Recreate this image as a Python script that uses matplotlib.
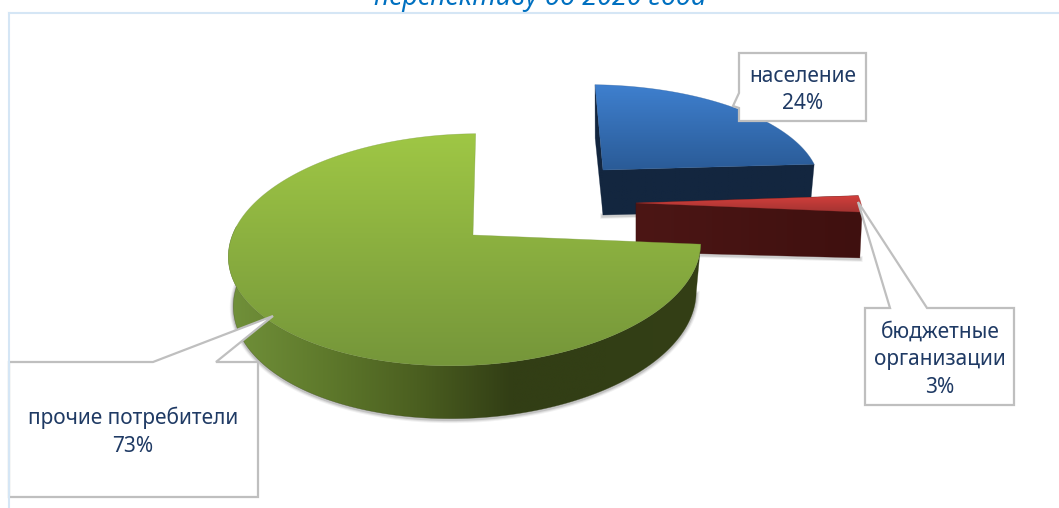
from matplotlib import pyplot as plt
from matplotlib.colors import LinearSegmentedColormap
from matplotlib.patches import Polygon
import numpy as np

# Datos
categorias = ["население", "бюджетные\nорганизации", "прочие потребители"]
valores = [24, 3, 73]
titulo = "перспективу до 2020 года"

ANCHO, ALTO = 1059, 508
TINTA = "#1f3a64"
GRIS = "#bfbfbf"

# Perspectiva: centro, radios, sesgos, profundidad y escala de la base
geom = [
    dict(cx=603, cy=170, rx=221, ry=96, sx=-9, sy=0, d=45, ex=0.98, ey=0.9),
    dict(cx=636, cy=203, rx=232, ry=90, sx=0, sy=-2, d=49, ex=0.99, ey=0.65),
    dict(cx=473, cy=235, rx=234, ry=114, sx=3, sy=-5, d=49, ex=0.98, ey=1.03),
]
sup_col = [["#3f80cf", "#2a5b97"], ["#d43f3c", "#a53432"], ["#9fc745", "#75963a"]]
lat_col = [["#13263f", "#13263f"], ["#4c1615", "#3f100f"],
           ["#71913a", "#5f7a2c", "#4b5f20", "#323e15", "#323e15", "#343f16"]]

cajas = [
    [(739, 53), (866, 53), (866, 121), (739, 121), (739, 108), (733, 106), (739, 93)],
    [(865, 308), (890, 308), (858, 202), (927, 308), (1014, 308), (1014, 405), (865, 405)],
    [(9, 362), (153, 362), (273, 316), (216, 362), (258, 362), (258, 497), (9, 497)],
]
textos = [(803, 90), (940, 360), (133, 432)]


def proyecta(t, g, base=False):
    ''' Pasa ángulos del círculo a píxeles con una perspectiva sencilla '''
    u, v = np.cos(t), np.sin(t)
    w = 1 + 0.1256 * v + 0.034 * u
    x = (g["rx"] * u + g["sx"] * v) / w
    y = (-g["ry"] * v + g["sy"] * u) / w
    if base:
        return np.column_stack((g["cx"] + x * g["ex"], g["cy"] + y * g["ey"] + g["d"]))
    return np.column_stack((g["cx"] + x, g["cy"] + y))


def rellena(ax, puntos, colores, zorder, vertical=True):
    ''' Rellena un polígono con un degradado '''
    puntos = np.asarray(puntos)
    mapa = LinearSegmentedColormap.from_list("m", colores)
    grad = np.linspace(0, 1, 256)
    grad = grad.reshape(-1, 1) if vertical else grad.reshape(1, -1)
    x0, x1, y0, y1 = puntos[:, 0].min(), puntos[:, 0].max(), puntos[:, 1].min(), puntos[:, 1].max()
    im = ax.imshow(grad, cmap=mapa, extent=(x0, x1, y1, y0), aspect="auto", zorder=zorder, interpolation="bilinear")
    pol = Polygon(puntos, closed=True, transform=ax.transData)
    im.set_clip_path(pol)
    # Borde fino para suavizar el recorte
    ax.add_patch(Polygon(puntos, closed=True, fill=False, lw=0.4, ec=colores[-1], alpha=0.5, zorder=zorder))


fig = plt.figure(figsize=(ANCHO / 100, ALTO / 100), dpi=100)
ax = fig.add_axes([0, 0, 1, 1])
plt.rcParams["font.family"] = ["Noto Sans", "DejaVu Sans"]

# Ángulos de cada porción, empezando arriba y en sentido horario
acum = np.cumsum([0] + valores) / sum(valores) * 2 * np.pi
for i, g in enumerate(geom):
    z = 2 + i * 5
    t0, t1 = np.pi / 2 - acum[i], np.pi / 2 - acum[i + 1]
    arco = np.linspace(t0, t1, 200)
    borde = proyecta(arco, g)
    fondo = proyecta(arco, g, base=True)
    centro = proyecta(np.array([0.0]), dict(g, rx=0, sx=0, sy=0))
    centro_b = proyecta(np.array([0.0]), dict(g, rx=0, sx=0, sy=0), base=True)

    if i == 2:
        # Pared exterior visible, con sombra debajo
        vis = np.sin(arco) <= 0.12
        pared = np.vstack((borde[vis], fondo[vis][::-1]))
        for lw, al in [(5, 0.08), (3.5, 0.12), (2, 0.2)]:
            ax.plot(fondo[vis][:, 0], fondo[vis][:, 1] + 1, color="#555555", lw=lw, alpha=al, zorder=z)
        rellena(ax, pared, lat_col[i], z + 1, vertical=False)
    else:
        # Cara del corte delantero
        for lw, al in [(4, 0.1), (2.5, 0.2)]:
            ax.plot([centro_b[0, 0], fondo[-1, 0]], [centro_b[0, 1] + 1, fondo[-1, 1] + 1],
                    color="#555555", lw=lw, alpha=al, zorder=z)
        corte = np.vstack((centro, borde[-1:], fondo[-1:], centro_b))
        trasera = np.vstack((centro, borde[:1], fondo[:1], centro_b))
        rellena(ax, trasera, lat_col[i], z + 1, vertical=False)
        rellena(ax, corte, lat_col[i], z + 1, vertical=False)

    rellena(ax, np.vstack((centro, borde)), sup_col[i], z + 2)

# Cajas con su puntero
for caja, (tx, ty), cat, val in zip(cajas, textos, categorias, valores):
    ax.add_patch(Polygon(caja, closed=True, fc="white", ec=GRIS, lw=1.6, joinstyle="miter", zorder=30))
    ax.text(tx, ty, f"{cat}\n{val}%", ha="center", va="center", color=TINTA, fontsize=15,
            linespacing=1.42, zorder=31)

# Marco del gráfico
ax.plot([9, 9], [13, ALTO], color="#d5e6f5", lw=1.5, zorder=40)
ax.plot([9, ANCHO], [13, 13], color="#d5e6f5", lw=1.5, zorder=40)

# Título, cortado por arriba como en el original
ax.text(540, 5, titulo, ha="center", va="baseline", color="#0070c0", fontsize=19.4, style="italic", zorder=41)

ax.set_xlim(0, ANCHO)
ax.set_ylim(ALTO, 0)
ax.axis("off")
plt.savefig("out.png", dpi=100)
